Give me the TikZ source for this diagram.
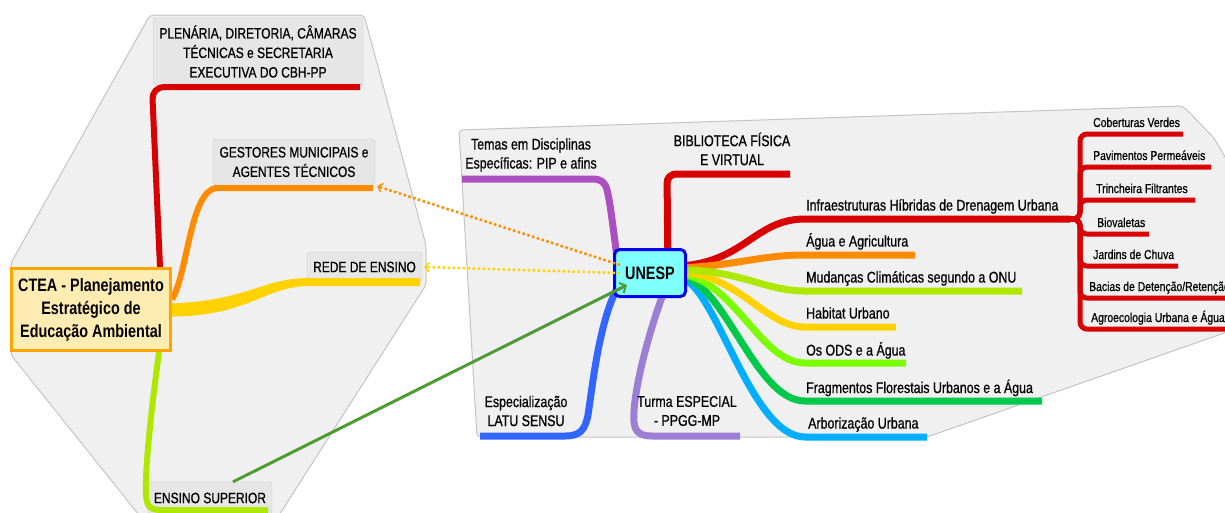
\documentclass[tikz,border=0pt]{standalone}
\usepackage{fontspec}
\setmainfont{Liberation Sans}[FakeStretch=0.8]
\newfontfamily\regfont{Liberation Sans}[FakeStretch=0.8,FakeBold=0.7]
\usetikzlibrary{arrows.meta,calc}
\definecolor{bgpoly}{HTML}{F0F0F0}
\definecolor{polyedge}{HTML}{C4C4C4}
\definecolor{boxfill}{HTML}{E6E6E6}
\definecolor{boxedge}{HTML}{CCCCCC}
\definecolor{cred}{HTML}{D80000}
\definecolor{corange}{HTML}{FF8C00}
\definecolor{cyellow}{HTML}{FFD200}
\definecolor{clime}{HTML}{AEE800}
\definecolor{cchart}{HTML}{7CFC00}
\definecolor{cgreen}{HTML}{00C84B}
\definecolor{csky}{HTML}{00AEFF}
\definecolor{cblue}{HTML}{3366FF}
\definecolor{cpurple}{HTML}{AC4FC0}
\definecolor{clav}{HTML}{9C7FD4}
\definecolor{carrow}{HTML}{4E9A35}
\definecolor{ctfill}{HTML}{FFECB3}
\definecolor{ctedge}{HTML}{FFA500}
\definecolor{unfill}{HTML}{80FFFF}
\definecolor{unedge}{HTML}{0000EE}
\pgfdeclarelayer{back}
\pgfdeclarelayer{mid}
\pgfsetlayers{back,mid,main}
\begin{document}
\begin{tikzpicture}[x=1pt,y=-1pt,
  lbl/.style={font=\regfont\fontsize{15.5}{19}\selectfont, inner sep=0pt, align=center},
  sublbl/.style={font=\regfont\fontsize{13}{15}\selectfont, inner sep=0pt, anchor=base west},
  mainlbl/.style={font=\regfont\fontsize{15.5}{19}\selectfont, inner sep=0pt, anchor=base west},
  graybox/.style={draw=boxedge, fill=boxfill, rounded corners=3pt, align=center, inner sep=0pt, font=\regfont\fontsize{15}{19.5}\selectfont},
  branch/.style={line width=7pt},
  subbranch/.style={line width=5pt, draw=cred, rounded corners=7pt},
  dotlink/.style={line width=2.5pt, dash pattern=on 2.5pt off 2.5pt, -{Straight Barb[length=4pt,width=9pt,line width=1.5pt]}},
]
\useasboundingbox (0,0) rectangle (1225,512);

% ---------------- background layer ----------------
\begin{pgfonlayer}{back}
\clip (0,0) rectangle (1225,512);
\fill[white] (0,0) rectangle (1225,512);
\draw[fill=bgpoly, draw=polyedge, line width=1pt, rounded corners=4pt]
  (150,15) -- (364,15) -- (426,245) -- (426,285) -- (276,520) -- (143,520) -- (11,355) -- (11,263) -- cycle;
\draw[fill=bgpoly, draw=polyedge, line width=1pt, rounded corners=4pt]
  (459,130) -- (1183,106) -- (1214,138) -- (1250,200) -- (1250,324) -- (927,437) -- (477,437) -- cycle;
\node[graybox, minimum width=210pt, minimum height=67pt] (plen) at (258,51.5)
  {PLENÁRIA, DIRETORIA, CÂMARAS\\TÉCNICAS e SECRETARIA\\EXECUTIVA DO CBH-PP};
\node[graybox, minimum width=162pt, minimum height=46pt] (gest) at (294,162)
  {GESTORES MUNICIPAIS e\\AGENTES TÉCNICOS};
\node[graybox, minimum width=115pt, minimum height=30pt] (rede) at (364.5,267) {REDE DE ENSINO};
\node[graybox, minimum width=124pt, minimum height=32pt] (ens) at (210,498) {ENSINO SUPERIOR};
\end{pgfonlayer}

% ---------------- main nodes ----------------
\node[draw=ctedge, fill=ctfill, line width=3pt, minimum width=159pt, minimum height=82pt,
      inner sep=0pt, align=center, font=\bfseries\fontsize{18}{23}\selectfont]
  (ctea) at (91,309.5) {CTEA - Planejamento\\Estratégico de\\Educação Ambiental};
\node[draw=unedge, fill=unfill, line width=3pt, rounded corners=5pt, minimum width=71pt,
      minimum height=47pt, inner sep=0pt, font=\bfseries\fontsize{18}{22}\selectfont]
  (unesp) at (650,273) {UNESP};

% ---------------- branch lines ----------------
\begin{pgfonlayer}{mid}
\clip (0,0) rectangle (1225,512);
% left cluster
\draw[branch, cred, line width=6pt, rounded corners=12pt]
  ([xshift=-12pt]ctea.north east) -- (152,87) -- ([xshift=-3pt,yshift=-2pt]plen.south east);
\draw[branch, corange, line width=6pt]
  ([yshift=10pt]ctea.east) .. controls (188,272) and (190,192) .. (216,188)
  -- ([xshift=-2pt,yshift=-3pt]gest.south east);
\fill[cyellow] ([yshift=6pt]ctea.east) .. controls (250,300) and (262,278) .. (310,278)
  -- ([xshift=-2pt,yshift=4pt]rede.south east) -- ([xshift=-2pt,yshift=-4pt]rede.south east)
  -- (310,286) .. controls (264,286) and (250,316) .. ([yshift=-7pt]ctea.east) -- cycle;
\draw[branch, clime, line width=6pt]
  ([xshift=-13pt]ctea.south east) .. controls (150,420) and (145,470) .. (146,495)
  .. controls (147,507) and (150,510) .. (162,510) -- (268,510);
% right cluster
\draw[branch, cpurple]
  ([xshift=-31pt]unesp.center) .. controls (614,235) and (610,200) .. (607,190)
  .. controls (605,182) and (601,179) .. (592,179) -- (462,179);
\draw[branch, cred, rounded corners=9pt]
  ([xshift=18pt]unesp.center) -- (667,174) -- (790,174);
\draw[branch, cblue]
  ([xshift=-28pt,yshift=-8pt]unesp.center) .. controls (600,310) and (592,390) .. (588,415)
  .. controls (585,430) and (580,436) .. (565,436) -- (480,436);
\draw[branch, clav]
  ([xshift=18pt,yshift=-8pt]unesp.center) .. controls (645,340) and (632,400) .. (634,422)
  .. controls (635,432) and (640,436) .. (652,436) -- (740,436);
\draw[branch, cred]   (680,266) .. controls (745,262) and (755,219) .. (805,219) -- (1070,219);
\draw[branch, csky]   (680,278) .. controls (715,282) and (750,437) .. (805,437) -- (927,437);
\draw[branch, cgreen] (680,276) .. controls (725,282) and (755,401) .. (805,401) -- (1042,401);
\draw[branch, cchart] (680,274) .. controls (735,280) and (760,363) .. (805,363) -- (906,363);
\draw[branch, cyellow](680,272) .. controls (740,275) and (765,327) .. (805,327) -- (896,327);
\draw[branch, corange](680,268) .. controls (740,265) and (760,255) .. (805,255) -- (915,255);
\draw[branch, clime]  (680,270) .. controls (740,270) and (765,291) .. (805,291) -- (1022,291);
% sub branches
\draw[subbranch] (1064,219) -- (1080,219) -- (1080,134) -- (1183,134);
\draw[subbranch] (1064,219) -- (1080,219) -- (1080,167) -- (1211,167);
\draw[subbranch] (1064,219) -- (1080,219) -- (1080,200) -- (1195,200);
\draw[subbranch] (1064,219) -- (1080,219) -- (1080,234) -- (1149,234);
\draw[subbranch] (1064,219) -- (1080,219) -- (1080,266) -- (1178,266);
\draw[subbranch] (1064,219) -- (1080,219) -- (1080,298) -- (1240,298);
\draw[subbranch] (1064,219) -- (1080,219) -- (1080,329) -- (1240,329);
\end{pgfonlayer}

% ---------------- labels ----------------
\begin{scope}
\clip (0,0) rectangle (1225,512);
\node[lbl] (temas) at (531,155) {Temas em Disciplinas\\Específicas: PIP e afins};
\node[lbl] (bib) at (732,149) {BIBLIOTECA FÍSICA\\E VIRTUAL};
\node[lbl] (esp) at (526,411) {Especialização\\LATU SENSU};
\node[lbl] (turma) at (687,411) {Turma ESPECIAL\\- PPGG-MP};
\node[mainlbl] (infra) at (806,210.5) {Infraestruturas Híbridas de Drenagem Urbana};
\node[mainlbl] (agua) at (806,246.5) {Água e Agricultura};
\node[mainlbl] (mud) at (806,282.5) {Mudanças Climáticas segundo a ONU};
\node[mainlbl] (hab) at (806,318.5) {Habitat Urbano};
\node[mainlbl] (ods) at (806,355.5) {Os ODS e a Água};
\node[mainlbl] (frag) at (806,393) {Fragmentos Florestais Urbanos e a Água};
\node[mainlbl] (arb) at (808,428.5) {Arborização Urbana};
\node[sublbl] (cob) at (1093,127) {Coberturas Verdes};
\node[sublbl] (pav) at (1093,160) {Pavimentos Permeáveis};
\node[sublbl] (tri) at (1096,193) {Trincheira Filtrantes};
\node[sublbl] (bio) at (1097,227) {Biovaletas};
\node[sublbl] (jar) at (1093,259) {Jardins de Chuva};
\node[sublbl] (bac) at (1089,291) {Bacias de Detenção/Retenção};
\node[sublbl] (agro) at (1091,322) {Agroecologia Urbana e Água};

% ---------------- cross links ----------------
\draw[corange, dotlink] ([xshift=-30pt,yshift=8pt]unesp.center) -- ([xshift=2pt,yshift=-1pt]gest.south east);
\draw[cyellow, dotlink] ([xshift=-30pt]unesp.center) -- ([xshift=2pt]rede.east);
\draw[carrow, line width=3pt, -{Straight Barb[length=5pt,width=11pt,line width=2pt]}]
  ([xshift=23pt]ens.north) -- ([xshift=-23pt,yshift=-12pt]unesp.center);
\end{scope}
\end{tikzpicture}
\end{document}
